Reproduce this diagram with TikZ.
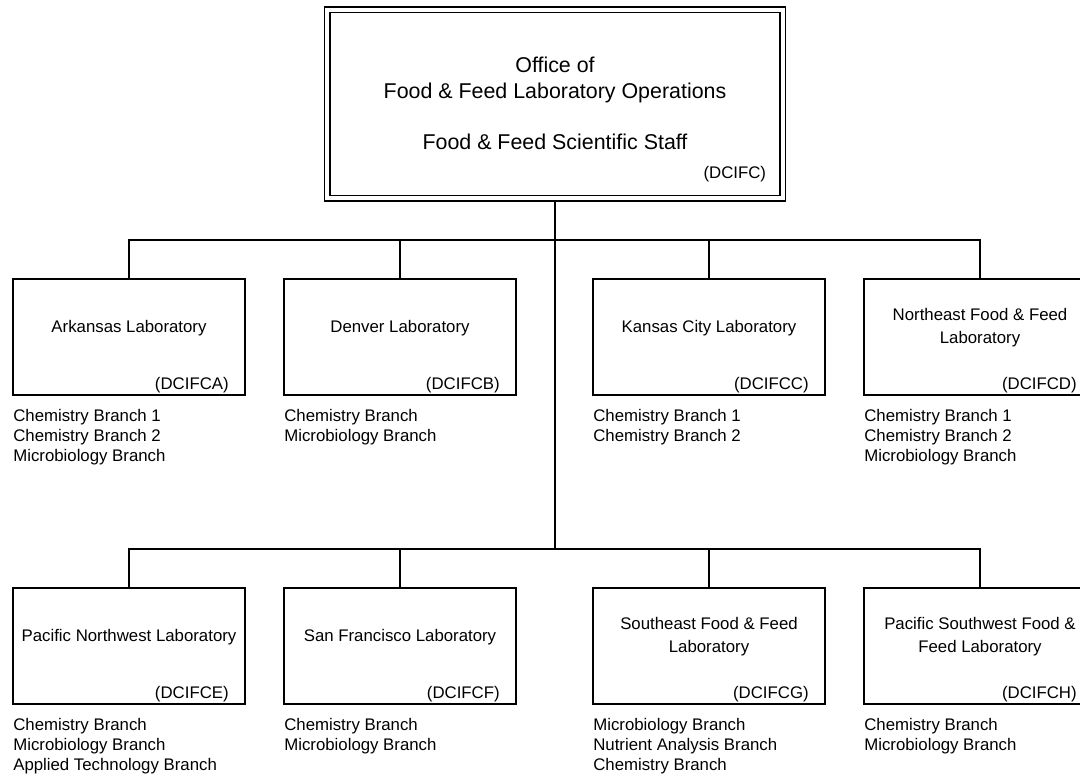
\documentclass[tikz,border=0pt]{standalone}
\usepackage{fontspec}
\newfontfamily\chartfont{Liberation Sans}
\usetikzlibrary{positioning}
\newcommand{\labfont}{\chartfont\fontsize{16.8}{23}\selectfont}
\newcommand{\listfont}{\chartfont\fontsize{16.8}{20.3}\selectfont}
\newcommand{\headfont}{\chartfont\fontsize{21.4}{25.5}\selectfont}
\tikzset{
    officebox/.style={draw, double, line width=1.5pt, double distance=4pt, minimum width=455.5pt, minimum height=188.5pt, outer sep=3.5pt, inner sep=0pt},
    labbox/.style={draw, line width=1.8pt, minimum width=232pt, minimum height=116pt, inner sep=0pt, anchor=north},
    labname/.style={font=\labfont, align=center, inner sep=0pt},
    labcode/.style={font=\labfont, anchor=base east, inner sep=0pt},
    branches/.style={font=\listfont, align=left, inner sep=0pt},
    link/.style={line width=1.8pt}
}

\begin{document}
\begin{tikzpicture}[x=1pt, y=-1pt]
        \clip (0,0) rectangle (1080,776);
        \fill[white] (0,0) rectangle (1080,776);

        % Office
        \node (office) [officebox] at (555,104) {};
        \node (office_title) [font=\headfont, align=center, inner sep=0pt, below=51pt of office.north] {Office of\\Food \& Feed Laboratory Operations\\[25.5pt]Food \& Feed Scientific Staff};
        \node (office_code) [labcode] at ([xshift=-20pt, yshift=23.75pt]office.south east) {(DCIFC)};

        % Upper row
        \node (ark) [labbox] at (129,278) {};
        \node (den) [labbox] at (400,278) {};
        \node (kc) [labbox] at (709,278) {};
        \node (nef) [labbox] at (980,278) {};

        \node (ark_name) [labname] at ([yshift=-50pt]ark.north) {Arkansas Laboratory};
        \node (den_name) [labname] at ([yshift=-50pt]den.north) {Denver Laboratory};
        \node (kc_name) [labname] at ([yshift=-50pt]kc.north) {Kansas City Laboratory};
        \node (nef_name) [labname] at ([yshift=-50pt]nef.north) {Northeast Food \& Feed\\Laboratory};

        \node (ark_code) [labcode] at ([xshift=-17pt, yshift=6.8pt]ark.south east) {(DCIFCA)};
        \node (den_code) [labcode] at ([xshift=-17pt, yshift=6.8pt]den.south east) {(DCIFCB)};
        \node (kc_code) [labcode] at ([xshift=-17pt, yshift=6.8pt]kc.south east) {(DCIFCC)};
        \node (nef_code) [labcode] at ([xshift=-20pt, yshift=6.8pt]nef.south east) {(DCIFCD)};

        \node (ark_list) [branches, below right=13pt and 1pt of ark.south west] {Chemistry Branch 1\\Chemistry Branch 2\\Microbiology Branch};
        \node (den_list) [branches, below right=13pt and 1pt of den.south west] {Chemistry Branch\\Microbiology Branch};
        \node (kc_list) [branches, below right=13pt and 1pt of kc.south west] {Chemistry Branch 1\\Chemistry Branch 2};
        \node (nef_list) [branches, below right=13pt and 1pt of nef.south west] {Chemistry Branch 1\\Chemistry Branch 2\\Microbiology Branch};

        % Lower row
        \node (pnw) [labbox] at (129,587) {};
        \node (sf) [labbox] at (400,587) {};
        \node (sef) [labbox] at (709,587) {};
        \node (psw) [labbox] at (980,587) {};

        \node (pnw_name) [labname] at ([yshift=-50pt]pnw.north) {Pacific Northwest Laboratory};
        \node (sf_name) [labname] at ([yshift=-50pt]sf.north) {San Francisco Laboratory};
        \node (sef_name) [labname] at ([yshift=-50pt]sef.north) {Southeast Food \& Feed\\Laboratory};
        \node (psw_name) [labname] at ([yshift=-50pt]psw.north) {Pacific Southwest Food \&\\Feed Laboratory};

        \node (pnw_code) [labcode] at ([xshift=-17pt, yshift=6.8pt]pnw.south east) {(DCIFCE)};
        \node (sf_code) [labcode] at ([xshift=-17pt, yshift=6.8pt]sf.south east) {(DCIFCF)};
        \node (sef_code) [labcode] at ([xshift=-17pt, yshift=6.8pt]sef.south east) {(DCIFCG)};
        \node (psw_code) [labcode] at ([xshift=-20pt, yshift=6.8pt]psw.south east) {(DCIFCH)};

        \node (pnw_list) [branches, below right=13pt and 1pt of pnw.south west] {Chemistry Branch\\Microbiology Branch\\Applied Technology Branch};
        \node (sf_list) [branches, below right=13pt and 1pt of sf.south west] {Chemistry Branch\\Microbiology Branch};
        \node (sef_list) [branches, below right=13pt and 1pt of sef.south west] {Microbiology Branch\\Nutrient Analysis Branch\\Chemistry Branch};
        \node (psw_list) [branches, below right=13pt and 1pt of psw.south west] {Chemistry Branch\\Microbiology Branch};

        % Connectors
        \coordinate (bus_up) at (555,240);
        \coordinate (bus_low) at (555,549);
        \draw[link] (office.south) -- (bus_low);
        \draw[link] (ark.north) |- (bus_up) -| (nef.north);
        \draw[link] (den.north) |- (bus_up);
        \draw[link] (kc.north) |- (bus_up);
        \draw[link] (pnw.north) |- (bus_low) -| (psw.north);
        \draw[link] (sf.north) |- (bus_low);
        \draw[link] (sef.north) |- (bus_low);

\end{tikzpicture}
\end{document}
